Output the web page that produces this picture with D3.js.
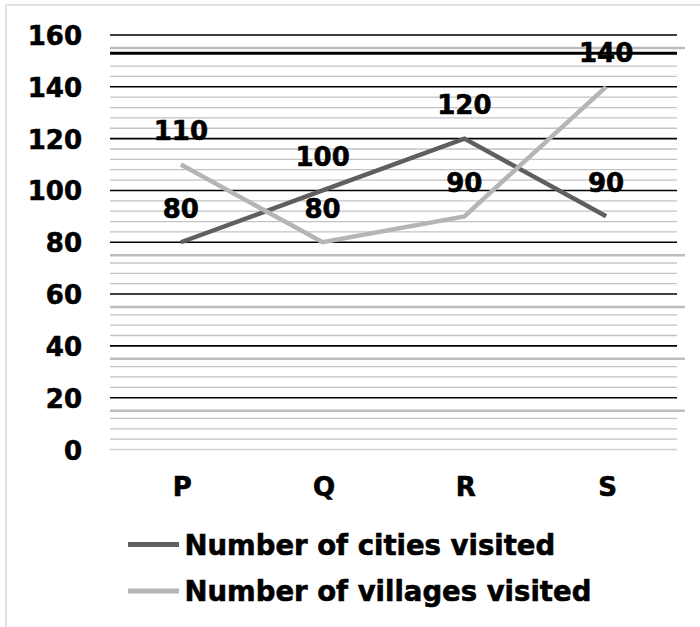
<!DOCTYPE html>
<html>
<head>
<meta charset="utf-8">
<script src="https://cdn.jsdelivr.net/npm/d3@7"></script>
<style>
  html, body { margin: 0; padding: 0; background: #fff; }
  svg { display: block; }
  text { font-family: "DejaVu Sans", Verdana, sans-serif; font-weight: bold; fill: #000; stroke: #000; stroke-width: 0.6px; }
</style>
</head>
<body>
<svg id="chart" width="700" height="627"></svg>
<script>
// Categories and the two series
const categories = ["P", "Q", "R", "S"];
const citiesVisited = [80, 100, 120, 90];
const villagesVisited = [110, 80, 90, 140];
const seriesNames = ["Number of cities visited", "Number of villages visited"];

// Value axis ticks
const yTicks = [0, 20, 40, 60, 80, 100, 120, 140, 160];
const minorStep = 4;
// Heavier ruled lines laid across the grid
const accentRules = [155, 75, 55, 35, 15];
const heavyRule = 153;

const svg = d3.select("#chart");
const W = 700, H = 627;
const plot = { left: 110, right: 677, top: 35, bottom: 449.5 };

// Outer chart frame
svg.append("rect")
  .attr("x", 6).attr("y", 5)
  .attr("width", W + 20).attr("height", H + 20)
  .attr("fill", "#fff")
  .attr("stroke", "#d9d9d9").attr("stroke-width", 1.5);

const x = d3.scalePoint().domain(categories).range([plot.left, plot.right]).padding(0.5);
const y = d3.scaleLinear().domain([0, 160]).range([plot.bottom, plot.top]);

// Minor gridlines
const minorVals = d3.range(minorStep, 160, minorStep)
  .filter(v => v % 20 !== 0)
  .filter(v => !accentRules.some(a => Math.abs(a - v) < 2) && Math.abs(heavyRule - v) >= 2);

const grid = svg.append("g");
grid.selectAll("line.minor").data(minorVals).join("line")
  .attr("class", "minor")
  .attr("x1", plot.left).attr("x2", plot.right)
  .attr("y1", d => y(d)).attr("y2", d => y(d))
  .attr("stroke", "#c3c3c3").attr("stroke-width", 1.3);

grid.selectAll("line.accent").data(accentRules).join("line")
  .attr("class", "accent")
  .attr("x1", plot.left).attr("x2", 685)
  .attr("y1", d => y(d)).attr("y2", d => y(d))
  .attr("stroke", "#bdbdbd").attr("stroke-width", 2.5);

grid.append("line")
  .attr("x1", plot.left).attr("x2", plot.right)
  .attr("y1", y(heavyRule)).attr("y2", y(heavyRule))
  .attr("stroke", "#000").attr("stroke-width", 3);

// Major gridlines (baseline is light)
grid.selectAll("line.major").data(yTicks).join("line")
  .attr("class", "major")
  .attr("x1", plot.left).attr("x2", plot.right)
  .attr("y1", d => y(d)).attr("y2", d => y(d))
  .attr("stroke", d => d === 0 ? "#cfcfcf" : "#000")
  .attr("stroke-width", d => d === 0 ? 1.3 : 1.6);

// Y axis labels
const yAxis = d3.axisLeft(y).tickValues(yTicks).tickSize(0).tickPadding(0);
const gy = svg.append("g").attr("transform", "translate(82,0)").call(yAxis);
gy.select(".domain").remove();
gy.selectAll("text")
  .attr("font-size", 26)
  .attr("font-family", "DejaVu Sans, Verdana, sans-serif")
  .attr("font-weight", "bold")
  .attr("fill", "#000")
  .attr("dy", null)
  .attr("y", 9.5);

// X axis labels
const xAxis = d3.axisBottom(x).tickSize(0).tickPadding(0);
const gx = svg.append("g").attr("transform", "translate(1,0)").call(xAxis);
gx.select(".domain").remove();
gx.selectAll("text")
  .attr("font-size", 26)
  .attr("font-family", "DejaVu Sans, Verdana, sans-serif")
  .attr("font-weight", "bold")
  .attr("fill", "#000")
  .attr("dy", null)
  .attr("y", 496);

// Series lines
const series = [
  { name: seriesNames[0], values: citiesVisited, color: "#5f5f5f" },
  { name: seriesNames[1], values: villagesVisited, color: "#b5b5b5" }
];
const line = d3.line().x((d, i) => x(categories[i])).y(d => y(d));

svg.append("g").selectAll("path").data(series).join("path")
  .attr("d", s => line(s.values))
  .attr("fill", "none")
  .attr("stroke", s => s.color)
  .attr("stroke-width", 4.5)
  .attr("stroke-linejoin", "miter");

// Value labels above each point
const labels = svg.append("g");
series.forEach(s => {
  labels.selectAll(null).data(s.values).join("text")
    .attr("x", (d, i) => x(categories[i]))
    .attr("y", d => y(d) - 24.5)
    .attr("text-anchor", "middle")
    .attr("font-size", 26)
    .text(d => d);
});

// Legend
const legend = svg.append("g");
series.forEach((s, i) => {
  const ly = 544.5 + i * 46.5;
  legend.append("line")
    .attr("x1", 128).attr("x2", 179)
    .attr("y1", ly).attr("y2", ly)
    .attr("stroke", s.color).attr("stroke-width", 5);
  legend.append("text")
    .attr("x", 184.5).attr("y", ly + 10)
    .attr("font-size", 27.5)
    .text(s.name);
});
</script>
</body>
</html>
